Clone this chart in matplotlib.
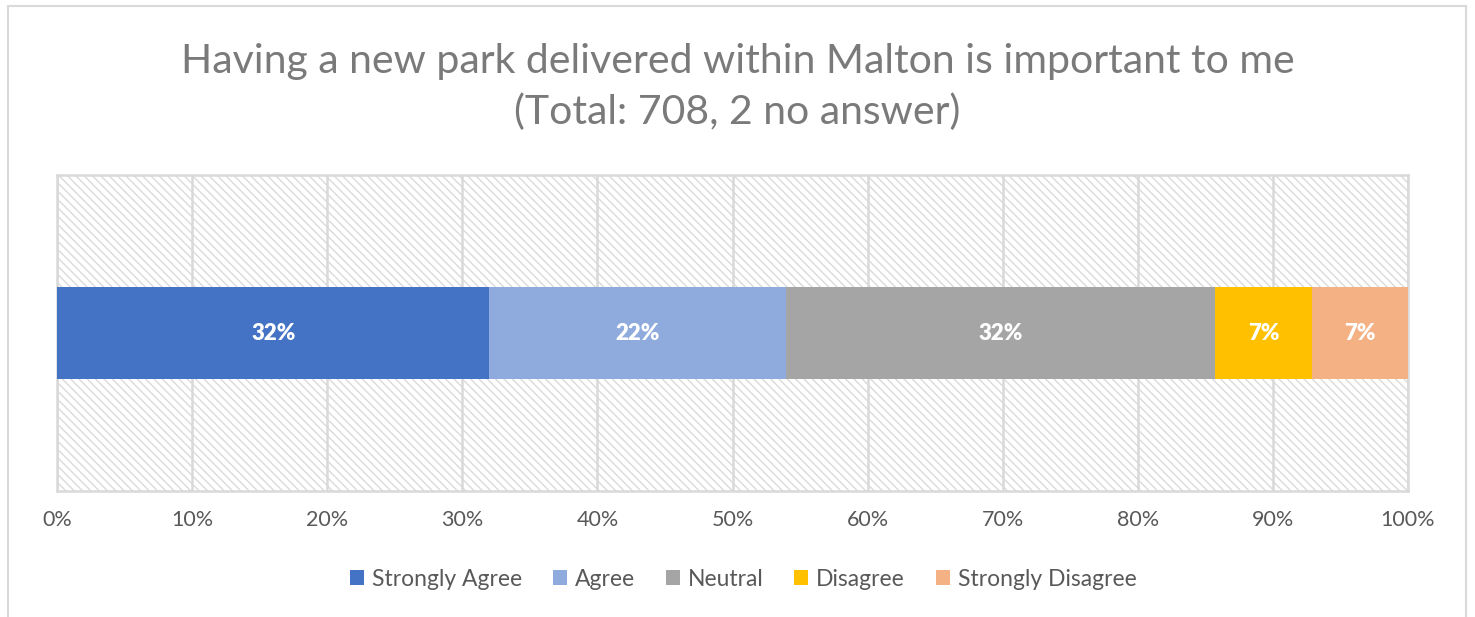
import numpy as np
import matplotlib.pyplot as plt
from matplotlib.patches import Rectangle

plt.rcParams['font.family'] = ['Lato', 'DejaVu Sans']

# survey responses (706 answered out of 708)
categories = ['Strongly Agree', 'Agree', 'Neutral', 'Disagree', 'Strongly Disagree']
counts = [226, 155, 224, 51, 50]
colors = ['#4472C4', '#8FAADC', '#A5A5A5', '#FFC000', '#F4B183']
title = 'Having a new park delivered within Malton is important to me\n(Total: 708, 2 no answer)'

pct = np.array(counts) / sum(counts) * 100

fig = plt.figure(figsize=(14.75, 6.17), dpi=100)
ax = fig.add_axes([57 / 1475, 1 - 491 / 617, 1351 / 1475, 316 / 617])

# outer chart frame
fig.patches.append(Rectangle((8 / 1475, -0.01), 1458 / 1475, 1 - 6 / 617 + 0.01,
                             transform=fig.transFigure, fill=False,
                             edgecolor='#d9d9d9', linewidth=1.5))

# hatched plot background
plt.rcParams['hatch.color'] = '#dadada'
plt.rcParams['hatch.linewidth'] = 1.0
ax.add_patch(Rectangle((0, 0), 1, 1, transform=ax.transAxes, facecolor='white',
                       hatch='\\\\\\\\', edgecolor='#dadada', linewidth=0, zorder=0))

left = 0
for cat, p, c in zip(categories, pct, colors):
    ax.barh(0, p, left=left, height=0.288, color=c, label=cat, zorder=3)
    ax.text(left + p / 2, 0, f'{p:.0f}%', ha='center', va='center',
            color='white', fontsize=16, fontweight='heavy', zorder=4)
    left += p

ax.set_xlim(0, 100)
ax.set_ylim(-0.5, 0.5)
ax.set_xticks(np.arange(0, 101, 10))
ax.set_xticklabels([f'{t}%' for t in range(0, 101, 10)], fontsize=15.5, color='#595959')
ax.set_yticks([])
ax.tick_params(axis='x', length=0, pad=14)
ax.grid(axis='x', color='#d9d9d9', linewidth=1.8, zorder=1)
ax.set_axisbelow(True)
for s in ax.spines.values():
    s.set_color('#d9d9d9')
    s.set_linewidth(1.8)

fig.text(0.5, 1 - 87 / 617, title, ha='center', va='center', fontsize=29.5,
         color='#7a7a7a', linespacing=1.42)

fig.legend(loc='center', bbox_to_anchor=(0.504, 1 - 579 / 617), ncol=5, frameon=False,
           fontsize=16.5, handlelength=0.6, handleheight=0.6, handletextpad=0.35,
           columnspacing=1.35, labelcolor='#595959')

fig.savefig('out.png', dpi=100)
